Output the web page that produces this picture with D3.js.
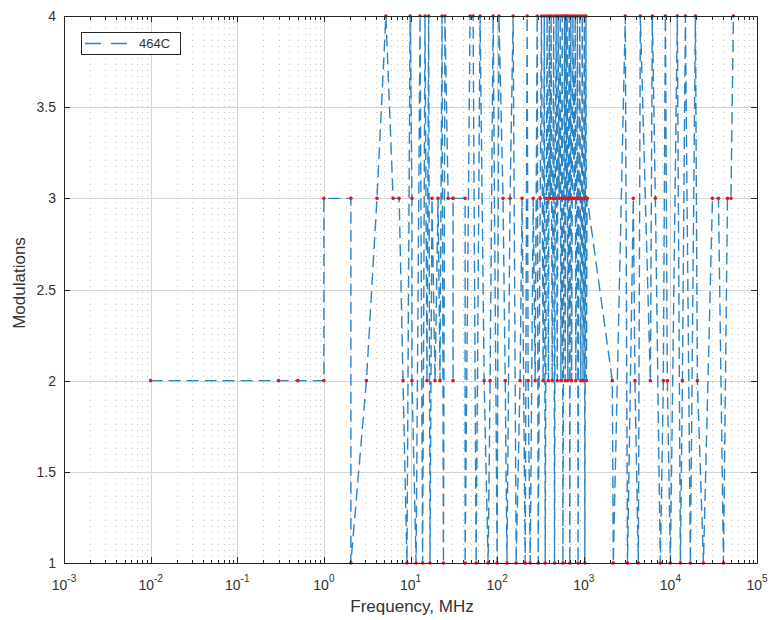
<!DOCTYPE html>
<html>
<head>
<meta charset="utf-8">
<script src="https://cdn.jsdelivr.net/npm/d3@7/dist/d3.min.js"></script>
<style>
  html, body { margin: 0; padding: 0; background: #fff; }
  svg text { font-family: "Liberation Sans", Arial, Helvetica, sans-serif; fill: #333; }
</style>
</head>
<body>
<svg id="chart" width="771" height="620"></svg>
<script>
// Frequency (MHz) of each record, sorted ascending, and its modulation count
const freqs = [
  0.01, 0.3, 0.5, 1, 1, 2.05, 2.05, 3.1, 4.1, 5.2,
  6.3, 7.4, 8.2, 9.1, 9.9, 10.4, 10.4, 11.6, 12.9, 13.8,
  14.7, 15.5, 16.2, 16.8, 17.7, 19.2, 20.8, 21.9, 23.1, 24,
  25, 27.2, 31, 31, 31, 42.7, 42.7, 48.7, 52.8, 57.2,
  63.6, 70.8, 78.7, 83, 90, 100, 105, 117, 124, 130,
  141, 153, 166, 184, 194, 211, 222, 228, 241, 261,
  275, 290, 298, 314, 325, 340, 350, 359, 370, 378,
  390, 400, 410, 420, 432, 440, 450, 460, 468, 480,
  494, 505, 520, 535, 545, 555, 564, 575, 590, 600,
  611, 625, 635, 644, 655, 665, 680, 690, 698, 710,
  725, 736, 750, 775, 797, 810, 830, 845, 860, 880,
  900, 925, 945, 961, 980, 1000, 1015, 1030, 1045, 1060,
  1075, 1090, 1097, 2137, 2193, 3018, 3200, 3733, 3900, 4266,
  4500, 5872, 6194, 6710, 7656, 8300, 8752, 9230, 10000, 12030,
  13050, 13770, 14900, 17020, 19450, 20510, 24080, 30610, 35900, 41000,
  45620, 50000, 53490
];
const mods = [
  2, 2, 2, 2, 3, 3, 1, 2, 3, 4,
  3, 3, 2, 1, 4, 3, 2, 1, 4, 1,
  4, 2, 4, 1, 3, 2, 3, 2, 4, 1,
  4, 3, 3, 2, 3, 3, 1, 4, 4, 1,
  4, 2, 1, 2, 4, 1, 4, 3, 2, 1,
  3, 4, 1, 2, 3, 1, 4, 2, 1, 3,
  2, 4, 1, 3, 4, 2, 4, 1, 3, 4,
  2, 4, 3, 4, 2, 3, 4, 1, 3, 4,
  2, 4, 3, 4, 2, 3, 4, 1, 3, 4,
  2, 4, 3, 4, 2, 3, 4, 1, 3, 4,
  2, 3, 4, 3, 4, 2, 3, 4, 1, 3,
  4, 2, 3, 4, 2, 3, 4, 1, 3, 4,
  2, 3, 3, 2, 1, 4, 1, 3, 2, 1,
  4, 2, 4, 3, 1, 2, 4, 2, 1, 4,
  1, 2, 4, 1, 4, 2, 1, 3, 3, 1,
  3, 3, 4
];
const seriesName = "464C";

// Axis ticks
const xTickExps = [-3, -2, -1, 0, 1, 2, 3, 4, 5];
const yTicks = [1, 1.5, 2, 2.5, 3, 3.5, 4];
const yTickLabels = ["1", "1.5", "2", "2.5", "3", "3.5", "4"];

const plot = { left: 64, right: 757, top: 16, bottom: 563 };
const svg = d3.select("#chart");

const x = d3.scaleLog().domain([1e-3, 1e5]).range([plot.left, plot.right]);
const y = d3.scaleLinear().domain([1, 4]).range([plot.bottom, plot.top]);

const majorX = xTickExps.map(e => Math.pow(10, e));
const minorX = x.ticks().filter(v => !majorX.some(m => Math.abs(v / m - 1) < 1e-9));

// Grid: dotted minor verticals, solid major lines
const grid = svg.append("g").attr("shape-rendering", "crispEdges");
grid.selectAll("line.minor").data(minorX).join("line")
  .attr("class", "minor")
  .attr("x1", d => Math.round(x(d)) + 0.5).attr("x2", d => Math.round(x(d)) + 0.5)
  .attr("y1", plot.top).attr("y2", plot.bottom)
  .attr("stroke", "#c4c4c4").attr("stroke-width", 1).attr("stroke-dasharray", "1,5");
grid.selectAll("line.majx").data(majorX.slice(1, -1)).join("line")
  .attr("class", "majx")
  .attr("x1", d => Math.round(x(d)) + 0.5).attr("x2", d => Math.round(x(d)) + 0.5)
  .attr("y1", plot.top).attr("y2", plot.bottom)
  .attr("stroke", "#d6d6d6").attr("stroke-width", 1);
grid.selectAll("line.majy").data(yTicks.slice(1, -1)).join("line")
  .attr("class", "majy")
  .attr("x1", plot.left).attr("x2", plot.right)
  .attr("y1", d => Math.round(y(d)) + 0.5).attr("y2", d => Math.round(y(d)) + 0.5)
  .attr("stroke", "#d6d6d6").attr("stroke-width", 1);

// Data line and point markers
const pts = freqs.map((f, i) => ({ f, m: mods[i] }));
const line = d3.line().x(d => x(d.f)).y(d => y(d.m));
svg.append("path")
  .datum(pts)
  .attr("d", line)
  .attr("fill", "none")
  .attr("stroke", "#2a84c6")
  .attr("stroke-width", 1.4)
  .attr("stroke-dasharray", "12,6");
svg.append("g").selectAll("circle").data(pts).join("circle")
  .attr("cx", d => x(d.f)).attr("cy", d => y(d.m)).attr("r", 1.8)
  .attr("fill", "#e3161d");

// Axes: ticks point inward on all four sides
const axisColor = "#262626";
function styleAxis(g) {
  g.selectAll("path.domain").remove();
  g.selectAll("line").attr("stroke", axisColor);
  g.attr("shape-rendering", "crispEdges");
}
svg.append("g").attr("transform", `translate(0,${plot.bottom})`)
  .call(d3.axisBottom(x).tickValues(majorX).tickSize(-6).tickFormat("")).call(styleAxis);
svg.append("g").attr("transform", `translate(0,${plot.bottom})`)
  .call(d3.axisBottom(x).tickValues(minorX).tickSize(-3.5).tickFormat("")).call(styleAxis);
svg.append("g").attr("transform", `translate(0,${plot.top})`)
  .call(d3.axisTop(x).tickValues(majorX).tickSize(-6).tickFormat("")).call(styleAxis);
svg.append("g").attr("transform", `translate(0,${plot.top})`)
  .call(d3.axisTop(x).tickValues(minorX).tickSize(-3.5).tickFormat("")).call(styleAxis);
svg.append("g").attr("transform", `translate(${plot.left},0)`)
  .call(d3.axisLeft(y).tickValues(yTicks).tickSize(-6).tickFormat("")).call(styleAxis);
svg.append("g").attr("transform", `translate(${plot.right},0)`)
  .call(d3.axisRight(y).tickValues(yTicks).tickSize(-6).tickFormat("")).call(styleAxis);

// Box around the plot area
svg.append("rect")
  .attr("x", plot.left + 0.5).attr("y", plot.top + 0.5)
  .attr("width", plot.right - plot.left).attr("height", plot.bottom - plot.top)
  .attr("fill", "none").attr("stroke", axisColor).attr("stroke-width", 1)
  .attr("shape-rendering", "crispEdges");

// X tick labels as powers of ten
const xl = svg.append("g").selectAll("text").data(xTickExps).join("text")
  .attr("x", d => x(Math.pow(10, d)))
  .attr("y", 590)
  .attr("text-anchor", "middle")
  .attr("font-size", 14);
xl.append("tspan").text("10");
xl.append("tspan").attr("dy", -8).attr("font-size", 10).text(d => String(d));

// Y tick labels
svg.append("g").selectAll("text").data(yTicks).join("text")
  .attr("x", 56).attr("y", d => y(d)).attr("dy", "0.36em")
  .attr("text-anchor", "end").attr("font-size", 14)
  .text((d, i) => yTickLabels[i]);

// Axis titles
svg.append("text")
  .attr("x", 412).attr("y", 612)
  .attr("text-anchor", "middle").attr("font-size", 17)
  .text("Frequency, MHz");
svg.append("text")
  .attr("transform", `translate(25,283) rotate(-90)`)
  .attr("text-anchor", "middle").attr("font-size", 17)
  .text("Modulations");

// Legend
const lg = svg.append("g");
lg.append("rect").attr("x", 81.5).attr("y", 32.5).attr("width", 99).attr("height", 22)
  .attr("fill", "#fff").attr("stroke", axisColor).attr("shape-rendering", "crispEdges");
lg.append("line").attr("x1", 85).attr("x2", 128).attr("y1", 43.5).attr("y2", 43.5)
  .attr("stroke", "#2a84c6").attr("stroke-width", 1.4).attr("stroke-dasharray", "16,10");
lg.append("text").attr("x", 139).attr("y", 48).attr("font-size", 13).text(seriesName);
</script>
</body>
</html>
